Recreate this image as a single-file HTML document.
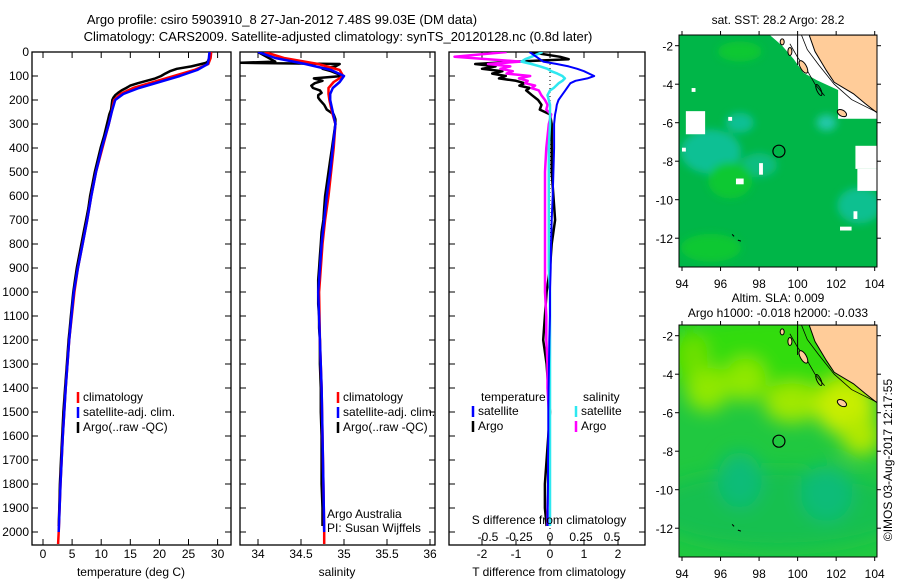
<!DOCTYPE html>
<html><head><meta charset="utf-8">
<style>
html,body{margin:0;padding:0;background:#fff;}
svg{display:block;font-family:"Liberation Sans",sans-serif;}
text{font-size:12px;fill:#000;}
</style></head>
<body>
<svg id="c" width="900" height="580" viewBox="0 0 900 580" xmlns="http://www.w3.org/2000/svg">
<defs>
<clipPath id="cp1"><rect x="32" y="52" width="199" height="493"/></clipPath>
<clipPath id="cp2"><rect x="240" y="52" width="195" height="493"/></clipPath>
<clipPath id="cp3"><rect x="449" y="52" width="196" height="493"/></clipPath>
<clipPath id="cpm1"><rect x="679" y="35" width="198" height="232"/></clipPath>
<clipPath id="cpm2"><rect x="679" y="325" width="198" height="232"/></clipPath>
<filter id="bl" x="-50%" y="-50%" width="200%" height="200%"><feGaussianBlur stdDeviation="9"/></filter>
<filter id="bl2" x="-50%" y="-50%" width="200%" height="200%"><feGaussianBlur stdDeviation="4"/></filter>
</defs>
<text x="282" y="24" text-anchor="middle" style="font-size:13px">Argo profile: csiro 5903910_8 27-Jan-2012 7.48S 99.03E (DM data)</text>
<text x="338" y="41" text-anchor="middle" style="font-size:13px">Climatology: CARS2009. Satellite-adjusted climatology: synTS_20120128.nc (0.8d later)</text>
<g id="g"></g>
</svg>
<script>
// ---- data ----
const depthClim = [0,25,50,75,100,125,150,175,200,250,300,400,500,600,700,800,900,1000,1200,1400,1600,1800,2000,2050];
const tempClim = [28.9,28.8,28.4,26.0,22.5,19.0,15.5,13.3,12.2,11.8,11.3,10.2,9.1,8.3,7.6,6.8,6.0,5.4,4.5,3.9,3.4,3.0,2.7,2.6];
const tempSat  = [28.6,28.5,28.3,26.5,23.5,20.0,16.5,13.8,12.4,11.8,11.3,10.1,9.1,8.3,7.6,6.8,6.0,5.3,4.5,3.9,3.4,3.0,2.7];
const salClim  = [34.08,34.3,34.7,34.95,34.99,34.88,34.82,34.82,34.83,34.86,34.9,34.88,34.85,34.82,34.78,34.75,34.73,34.71,34.72,34.74,34.75,34.76,34.77,34.77];
const salSat   = [34.0,34.2,34.55,34.85,35.0,34.95,34.87,34.84,34.84,34.87,34.9,34.87,34.84,34.8,34.77,34.74,34.72,34.7,34.72,34.74,34.75,34.76,34.77];
const depthArgo = [0,10,20,30,40,45,50,60,70,80,90,100,110,120,130,140,150,160,170,180,190,200,220,240,260,280,300,350,400,450,500,550,600,650,700,750,800,850,900,950,1000,1050,1100,1150,1200,1300,1400,1500,1600,1700,1800,1900,1975];
const tempArgo = [28.7,28.7,28.6,28.5,28.3,28.0,27.2,25.5,23.0,21.8,21.0,20.3,19.3,17.8,16.3,15.0,14.3,13.5,12.9,12.4,12.1,11.9,11.8,11.7,11.4,11.2,11.0,10.5,9.9,9.4,8.9,8.5,8.1,7.8,7.4,7.0,6.6,6.2,5.8,5.5,5.2,5.0,4.8,4.6,4.4,4.1,3.8,3.5,3.3,3.1,2.9,2.8,2.7];
const salArgo = [34.0,34.05,34.1,34.15,34.2,33.8,34.95,34.9,34.75,34.85,34.92,34.98,34.65,34.75,34.66,34.62,34.64,34.72,34.74,34.70,34.70,34.72,34.77,34.80,34.88,34.9,34.9,34.88,34.86,34.84,34.82,34.8,34.78,34.77,34.76,34.74,34.73,34.72,34.71,34.7,34.7,34.7,34.71,34.71,34.72,34.72,34.73,34.73,34.74,34.74,34.74,34.75,34.75];
const depthDiff = [0,20,30,40,50,60,70,80,90,100,110,120,130,140,150,160,180,200,220,240,260,300,400,500,600,700,800,900,1000,1100,1200,1300,1400,1500,1600,1700,1800,1900,1975];
const tDiffArgo = [-0.6,0.3,0.55,-1.0,-2.2,-1.6,-2.0,-1.4,-1.7,-1.3,-1.5,-1.0,-0.75,-0.9,-0.6,-0.7,-0.53,-0.35,-0.25,-0.3,0.0,0.05,0.05,0.05,0.1,0.15,0.05,0.0,-0.1,-0.15,-0.2,-0.1,-0.05,0.0,-0.05,-0.1,-0.15,-0.15,-0.1];
const tDiffSat = [-0.6,-0.4,-0.3,-0.2,0.2,0.55,0.8,1.0,1.15,1.3,1.1,0.75,0.6,0.55,0.5,0.45,0.35,0.25,0.2,0.18,0.15,0.12,0.12,0.1,0.08,0.05,0.03,0.02,0.0,0.0,-0.02,-0.03,-0.04,-0.05,-0.05,-0.06,-0.06,-0.07,-0.07];
const sDiffArgo = [-0.35,-0.77,-0.5,-0.24,-0.5,-0.32,-0.4,-0.3,-0.35,-0.16,-0.25,-0.18,-0.2,-0.12,-0.15,-0.09,-0.07,-0.04,-0.02,-0.03,0.01,-0.01,-0.03,-0.04,-0.04,-0.04,-0.04,-0.04,-0.04,-0.03,-0.03,-0.02,-0.02,-0.01,-0.01,-0.01,-0.01,-0.02,-0.02];
const sDiffSat = [-0.06,-0.15,-0.2,-0.23,-0.15,-0.08,-0.02,0.01,0.06,0.1,0.12,0.1,0.07,0.05,0.03,0.0,-0.02,-0.01,0.0,0.0,0.0,0.0,-0.01,-0.01,-0.01,-0.01,-0.01,-0.01,0.0,0.0,0.0,0.0,0.0,0.0,0.0,0.0,0.0,0.0,0.0];
const depthTicks = [0,100,200,300,400,500,600,700,800,900,1000,1100,1200,1300,1400,1500,1600,1700,1800,1900,2000];
const tempTicks = [0,5,10,15,20,25,30];
const salTicks = [34,34.5,35,35.5,36];
const tDiffTicks = [-2,-1,0,1,2];
const sDiffTicks = [-0.5,-0.25,0,0.25,0.5];
const lonTicks = [94,96,98,100,102,104];
const latTicks = [-2,-4,-6,-8,-10,-12];
const floatPos = [99.03,-7.48];

// ---- scales ----
const yD = d => 52 + d*0.24;
const xT = t => 43 + t*5.82;
const xS = s => 258 + (s-34)*86;
const xTd = v => 550 + v*34;
const xSd = v => 550 + v*124;
const mx = lon => 682 + (lon-94)*19.27;
const my1 = lat => 45.7 + (-2-lat)*19.25;
const my2 = lat => 335.7 + (-2-lat)*19.25;

const NS="http://www.w3.org/2000/svg";
const G=document.getElementById('g');
function mk(tag,attrs,parent){const e=document.createElementNS(NS,tag);for(const k in attrs)e.setAttribute(k,attrs[k]);(parent||G).appendChild(e);return e;}
function txt(x,y,s,anchor,parent){const t=mk('text',{x:x,y:y,'text-anchor':anchor||'start'},parent);t.textContent=s;return t;}
function line(xs,ys,sx,color,w,clip,name){
  let p='';for(let i=0;i<ys.length&&i<xs.length;i++){p+=(i?'L':'M')+sx(xs[i]).toFixed(1)+','+yD(ys[i]).toFixed(1);}
  const e=mk('path',{d:p,fill:'none',stroke:color,'stroke-width':w,'stroke-linejoin':'round','clip-path':'url(#'+clip+')'});
  
  
  return e;
}
function panel(x0,x1,name,yLabels){
  const r=mk('rect',{x:x0,y:52,width:x1-x0,height:493,fill:'none',stroke:'#000','stroke-width':1.3});
  
  
  depthTicks.forEach(d=>{
    mk('line',{x1:x0,x2:x0+6,y1:yD(d),y2:yD(d),stroke:'#000'});
    mk('line',{x1:x1,x2:x1-6,y1:yD(d),y2:yD(d),stroke:'#000'});
    if(yLabels){const t=txt(x0-3,yD(d)+4,String(d),'end');
      
      }
  });
}
function xticks(ticks,sx,y0,labelY,fmt){
  ticks.forEach(v=>{const x=sx(v);
    mk('line',{x1:x,x2:x,y1:52,y2:58,stroke:'#000'});
    mk('line',{x1:x,x2:x,y1:545,y2:539,stroke:'#000'});
    const t=txt(x,labelY,fmt?fmt(v):String(v),'middle');
    
    
  });
}
function legendItem(x,y,color,label){
  mk('line',{x1:x,x2:x,y1:y-9,y2:y+2,stroke:color,'stroke-width':2.5});
  const t=txt(x+5,y,label);
  
  
}

// Panel 1: temperature
panel(32,231,'temperature-panel',true);
xticks(tempTicks,xT,545,558);
line(tempArgo,depthArgo,xT,'#000',2.5,'cp1','temp-argo-line');
line(tempClim,depthClim,xT,'#f00',2.5,'cp1','temp-clim-line');
line(tempSat,depthClim,xT,'#00f',2.5,'cp1','temp-sat-line');
txt(131,576,'temperature (deg C)','middle');
legendItem(78,401,'#f00','climatology');
legendItem(78,416,'#00f','satellite-adj. clim.');
legendItem(78,431,'#000','Argo(..raw -QC)');

// Panel 2: salinity
panel(240,435,'salinity-panel',false);
xticks(salTicks,xS,545,558);
line(salArgo,depthArgo,xS,'#000',2.5,'cp2','sal-argo-line');
line(salClim,depthClim,xS,'#f00',2.5,'cp2','sal-clim-line');
line(salSat,depthClim,xS,'#00f',2.5,'cp2','sal-sat-line');
txt(337,576,'salinity','middle');
legendItem(338,401,'#f00','climatology');
legendItem(338,416,'#00f','satellite-adj. clim.');
legendItem(338,431,'#000','Argo(..raw -QC)');
txt(327,518,'Argo Australia');
txt(327,532,'PI: Susan Wijffels');

// Panel 3: differences
panel(449,645,'difference-panel',false);
xticks(tDiffTicks,xTd,545,558);
sDiffTicks.forEach(v=>{const t=txt(xSd(v),541,String(v),'middle');
  
  });
mk('line',{x1:550,x2:550,y1:52,y2:545,stroke:'#000','stroke-dasharray':'1,3'});
line(tDiffArgo,depthDiff,xTd,'#000',2.5,'cp3','tdiff-argo-line');
line(sDiffArgo,depthDiff,xSd,'#f0f',2.5,'cp3','sdiff-argo-line');
line(sDiffSat,depthDiff,xSd,'#2ee8f0',2.5,'cp3','sdiff-sat-line');
line(tDiffSat,depthDiff,xTd,'#00f',2,'cp3','tdiff-sat-line');
txt(549,524,'S difference from climatology','middle');
txt(549,576,'T difference from climatology','middle');
txt(481,401,'temperature');
txt(583,401,'salinity');
legendItem(473,415,'#00f','satellite');
legendItem(473,430,'#000','Argo');
legendItem(576,415,'#2ee8f0','satellite');
legendItem(576,430,'#f0f','Argo');

// Maps
function landAndCoast(my,clip){
  const g=mk('g',{'clip-path':'url(#'+clip+')'});
  const P=pts=>pts.map(p=>mx(p[0]).toFixed(1)+','+my(p[1]).toFixed(1)).join(' ');
  mk('polygon',{points:P([[100.6,-1.45],[104.2,-1.45],[104.2,-5.55],[103.5,-5.0],[102.9,-4.5],[101.9,-3.9],[101.5,-3.3],[100.9,-2.3]]),fill:'#ffcc99',stroke:'#000'},g);
  mk('polyline',{points:P([[100.2,-1.45],[100.5,-2.2],[101.1,-3.0],[101.9,-4.0],[102.8,-4.8],[103.6,-5.2],[104.2,-5.5]]),fill:'none',stroke:'#000','stroke-width':0.8},g);
  mk('polyline',{points:P([[99.6,-1.9],[100.0,-2.6],[100.5,-3.3],[100.9,-4.0],[101.4,-4.6]]),fill:'none',stroke:'#000','stroke-width':0.8},g);
  mk('ellipse',{cx:mx(100.3),cy:my(-3.1),rx:3,ry:7,fill:'#ffcc99',stroke:'#000',transform:'rotate(-30 '+mx(100.3)+' '+my(-3.1)+')'},g);
  mk('ellipse',{cx:mx(99.6),cy:my(-2.3),rx:2,ry:4,fill:'#ffcc99',stroke:'#000'},g);
  mk('ellipse',{cx:mx(99.2),cy:my(-1.8),rx:2,ry:3,fill:'#ffcc99',stroke:'#000'},g);
  mk('ellipse',{cx:mx(101.1),cy:my(-4.3),rx:2,ry:6,fill:'none',stroke:'#000',transform:'rotate(-25 '+mx(101.1)+' '+my(-4.3)+')'},g);
  mk('ellipse',{cx:mx(102.3),cy:my(-5.5),rx:5,ry:3,fill:'#ffcc99',stroke:'#000',transform:'rotate(30 '+mx(102.3)+' '+my(-5.5)+')'},g);
  mk('line',{x1:mx(100),x2:mx(100),y1:my(-1.45),y2:my(-3.0),stroke:'#000'},g);
  mk('path',{d:'M'+mx(96.6)+','+my(-11.8)+' l2,2 M'+mx(96.9)+','+my(-12.1)+' l3,1',stroke:'#000',fill:'none'},g);
}
function mapFrame(my,y0,name,title1,title2){
  const r=mk('rect',{x:679,y:y0,width:198,height:232,fill:'none',stroke:'#000'});
  
  
  lonTicks.forEach(v=>{mk('line',{x1:mx(v),x2:mx(v),y1:y0,y2:y0-4,stroke:'#000'});mk('line',{x1:mx(v),x2:mx(v),y1:y0+232,y2:y0+236,stroke:'#000'});
    const t=txt(mx(v),y0+253,String(v),'middle');});
  latTicks.forEach(v=>{mk('line',{x1:679,x2:675,y1:my(v),y2:my(v),stroke:'#000'});mk('line',{x1:877,x2:881,y1:my(v),y2:my(v),stroke:'#000'});
    const t=txt(673,my(v)+5,String(v),'end');});
  const c=mk('circle',{cx:mx(floatPos[0]),cy:my(floatPos[1]),r:6,fill:'none',stroke:'#000','stroke-width':1.2});
  
  
}
// SST map
(function(){
  const g=mk('g',{'clip-path':'url(#cpm1)'});
  
  
  mk('rect',{x:679,y:35,width:198,height:232,fill:'#00b648'},g);
  const b=mk('g',{filter:'url(#bl2)'},g);
  [[95.5,-7.5,30,22,'#10c094'],[97,-6,14,10,'#10c094'],[98,-8.2,18,12,'#10bd80'],[101.5,-6,10,8,'#20c8a8'],[103.2,-10.3,22,18,'#10c090'],[96.5,-9,22,18,'#10c830'],[95.5,-12.5,30,14,'#10c830'],[97,-2.3,22,10,'#10c830']].forEach(e=>
    mk('ellipse',{cx:mx(e[0]),cy:my1(e[1]),rx:e[2],ry:e[3],fill:e[4]},b));
  const P=pts=>pts.map(p=>mx(p[0]).toFixed(1)+','+my1(p[1]).toFixed(1)).join(' ');
  mk('polygon',{points:P([[98.5,-1.4],[104.3,-1.4],[104.3,-5.8],[102.1,-5.8],[102.1,-4.3],[101.0,-3.8],[100.3,-3.4],[99.8,-2.7],[99.2,-2.0]]),fill:'#fff'},g);
  [[94.2,-5.4,1,1.2],[94.0,-7.3,0.2,0.2],[96.8,-8.9,0.4,0.3],[98.0,-8.1,0.2,0.6],[103.0,-7.2,1.3,1.2],[102.9,-10.6,0.2,0.4],[102.2,-11.4,0.6,0.2],[94.5,-4.2,0.2,0.2],[96.4,-5.7,0.2,0.2]].forEach(r=>
    mk('rect',{x:mx(r[0]),y:my1(r[1]),width:r[2]*19.27,height:r[3]*19.25,fill:'#fff'},g));
  mk('rect',{x:mx(103.1),y:my1(-8.4),width:22,height:22,fill:'#fff'},g);
  landAndCoast(my1,'cpm1');
})();
mapFrame(my1,35,'sst-map','','');
txt(778,24,'sat. SST: 28.2 Argo: 28.2','middle');
// SLA map
(function(){
  const g=mk('g',{'clip-path':'url(#cpm2)'});
  
  
  mk('rect',{x:679,y:325,width:198,height:232,fill:'#20c840'},g);
  const b=mk('g',{filter:'url(#bl)'},g);
  [[99,-3,130,40,'#30dc10'],[99,-11,130,40,'#18c050'],[95.3,-4.8,22,22,'#90e800'],[97.3,-4.3,20,22,'#90e800'],[99.7,-5.5,28,20,'#a0e800'],[102.5,-5.7,30,28,'#c8ee00'],[103.3,-7.2,20,20,'#b0e800'],[97,-9.5,22,28,'#10bc78'],[101.5,-10.2,26,28,'#10bc78'],[94.6,-3,14,20,'#70e000']].forEach(e=>
    mk('ellipse',{cx:mx(e[0]),cy:my2(e[1]),rx:e[2],ry:e[3],fill:e[4]},b));
  landAndCoast(my2,'cpm2');
})();
mapFrame(my2,325,'sla-map','','');
txt(778,302,'Altim. SLA: 0.009','middle');
txt(778,317,'Argo h1000: -0.018 h2000: -0.033','middle');
const st=txt(0,0,'©IMOS 03-Aug-2017 12:17:55','middle');
st.setAttribute('transform','translate(892,460) rotate(-90)');


</script>
</body></html>
